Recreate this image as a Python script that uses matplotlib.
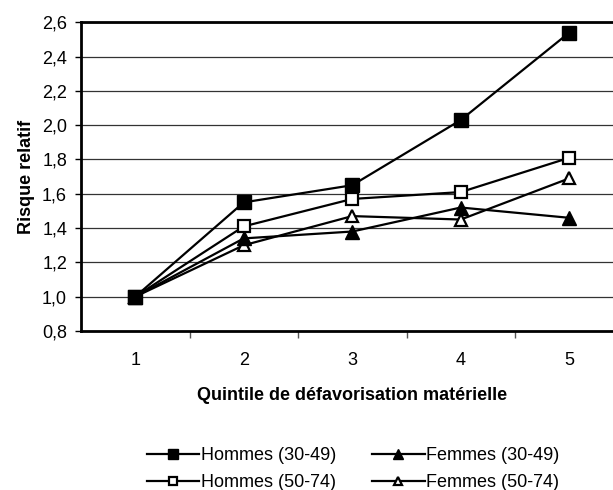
import matplotlib
matplotlib.use('Agg')
import matplotlib.pyplot as plt
from matplotlib.ticker import FuncFormatter

plt.rcParams['font.family'] = ['Liberation Sans', 'DejaVu Sans']

quintiles = [1, 2, 3, 4, 5]
hommes_30_49 = [1.00, 1.55, 1.65, 2.03, 2.54]
femmes_30_49 = [1.00, 1.34, 1.38, 1.52, 1.46]
hommes_50_74 = [1.00, 1.41, 1.57, 1.61, 1.81]
femmes_50_74 = [1.00, 1.30, 1.47, 1.45, 1.69]
yticks = [0.8, 1.0, 1.2, 1.4, 1.6, 1.8, 2.0, 2.2, 2.4, 2.6]

fig = plt.figure(figsize=(6.13, 4.90), dpi=100)
# axes run past the right edge of the figure (cropped like the original)
ax = fig.add_axes([81/613, 1-331/490, (623.5-81)/613, (331-22.3)/490])

for y in yticks[1:]:
	ax.axhline(y, color='#333333', lw=0.9, zorder=1)

l_f50, = ax.plot(quintiles, femmes_50_74, '-', color='black', lw=1.6, marker='^', ms=9,
	mfc='white', mec='black', mew=1.6, label='Femmes (50-74)', zorder=3)
l_f30, = ax.plot(quintiles, femmes_30_49, '-', color='black', lw=1.6, marker='^', ms=10,
	mfc='black', mec='black', label='Femmes (30-49)', zorder=3)
l_h50, = ax.plot(quintiles, hommes_50_74, '-', color='black', lw=1.6, marker='s', ms=9,
	mfc='white', mec='black', mew=1.6, label='Hommes (50-74)', zorder=3)
l_h30, = ax.plot(quintiles, hommes_30_49, '-', color='black', lw=1.6, marker='s', ms=10,
	mfc='black', mec='black', label='Hommes (30-49)', zorder=3)

ax.set_xlim(0.5, 5.5)
ax.set_ylim(0.8, 2.6)
ax.set_yticks(yticks)
ax.yaxis.set_major_formatter(FuncFormatter(lambda v, p: '{:.1f}'.format(v).replace('.', ',')))
ax.set_xticks(quintiles)
ax.set_xticklabels([str(q) for q in quintiles])
ax.set_xticks([1.5, 2.5, 3.5, 4.5], minor=True)
ax.tick_params(axis='x', which='major', length=0, pad=15, labelsize=13)
ax.tick_params(axis='x', which='minor', length=5, width=1, color='#555555')
ax.tick_params(axis='y', length=4, width=1, labelsize=13, pad=6)

for s in ['left', 'bottom', 'top']:
	ax.spines[s].set_linewidth(2)
ax.spines['right'].set_visible(False)

ax.set_xlabel('Quintile de défavorisation matérielle', fontsize=13, fontweight='bold', labelpad=13)
ax.set_ylabel('Risque relatif', fontsize=13, fontweight='bold', labelpad=5)

# legend filled column by column: keep the reference row order
handles = [l_h30, l_h50, l_f30, l_f50]
fig.legend(handles, [h.get_label() for h in handles], loc='center',
	bbox_to_anchor=(0.576, 0.043), ncol=2, frameon=False,
	fontsize=13, handlelength=2.9, handletextpad=0.1, columnspacing=2.0,
	labelspacing=0.55, markerscale=0.7)

fig.savefig('out.png', dpi=100)
